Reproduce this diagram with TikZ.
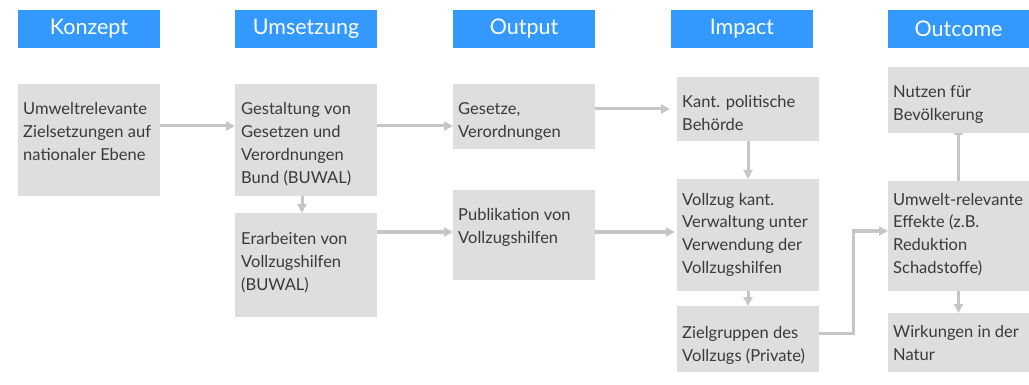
\documentclass[tikz,border=0pt]{standalone}
\usepackage{fontspec}
\setmainfont{Lato}
\usetikzlibrary{arrows.meta,backgrounds}
\definecolor{hblue}{HTML}{3399FF}
\definecolor{boxgray}{HTML}{DEDEDE}
\definecolor{arrgray}{HTML}{C6C6C6}
\definecolor{txtgray}{HTML}{3A3A3A}
\tikzset{
  hdr/.style={fill=hblue, text=white, font=\fontsize{21.5}{24}\selectfont, minimum width=142pt, minimum height=38pt, inner sep=0pt, outer sep=0pt, anchor=north west},
  gbox/.style={fill=boxgray, inner sep=0pt, outer sep=0pt, anchor=north west},
  btxt/.style={text=txtgray, font=\fontsize{16.5}{23}\selectfont, inner sep=0pt, anchor=base west},
  arr/.style={draw=arrgray, line width=3pt, -{Triangle[length=9pt,width=9pt]}},
}
\newcommand\ptext[1]{\parbox[t]{136pt}{\raggedright #1}}
\begin{document}
\begin{tikzpicture}[x=1pt,y=-1pt]
\path[use as bounding box] (0,0) rectangle (1029,385);
% headers
\node[hdr] (h1) at (18,10) {Konzept};
\node[hdr] (h2) at (235,10) {Umsetzung};
\node[hdr] (h3) at (453,10) {Output};
\node[hdr] (h4) at (671,10) {Impact};
\node[hdr, minimum width=141pt] (h5) at (888,10) {Outcome};
% boxes
\node[gbox, minimum width=142pt, minimum height=112pt] (konzept) at (18,84) {};
\node[gbox, minimum width=142pt, minimum height=112pt] (gestaltung) at (235,84) {};
\node[gbox, minimum width=142pt, minimum height=104pt] (erarbeiten) at (235,213) {};
\node[gbox, minimum width=142pt, minimum height=65pt] (gesetze) at (453,84) {};
\node[gbox, minimum width=142pt, minimum height=90pt] (publikation) at (453,190) {};
\node[gbox, minimum width=142pt, minimum height=64pt] (kant) at (677,77) {};
\node[gbox, minimum width=142pt, minimum height=112pt] (vollzug) at (677,179) {};
\node[gbox, minimum width=142pt, minimum height=66pt] (ziel) at (677,306) {};
\node[gbox, minimum width=141pt, minimum height=66pt] (nutzen) at (888,67) {};
\node[gbox, minimum width=141pt, minimum height=110pt] (umwelt) at (888,181) {};
\node[gbox, minimum width=141pt, minimum height=59pt] (wirkungen) at (888,313) {};
% texts
\node[btxt] (konzept-t) at (23,115) {\ptext{Umweltrelevante\\Zielsetzungen auf\\nationaler Ebene}};
\node[btxt] (gestaltung-t) at (241,115) {\ptext{Gestaltung von\\Gesetzen und\\Verordnungen\\Bund (BUWAL)}};
\node[btxt] (erarbeiten-t) at (241,244) {\ptext{Erarbeiten von\\Vollzugshilfen\\(BUWAL)}};
\node[btxt] (gesetze-t) at (458,115) {\ptext{Gesetze,\\Verordnungen}};
\node[btxt] (publikation-t) at (458,221) {\ptext{Publikation von\\Vollzugshilfen}};
\node[btxt] (kant-t) at (682,108) {\ptext{Kant. politische\\Behörde}};
\node[btxt] (vollzug-t) at (682,205) {\ptext{Vollzug kant.\\Verwaltung unter\\Verwendung der\\Vollzugshilfen}};
\node[btxt] (ziel-t) at (682,338) {\ptext{Zielgruppen des\\Vollzugs (Private)}};
\node[btxt] (nutzen-t) at (893,98) {\ptext{Nutzen für\\Bevölkerung}};
\node[btxt] (umwelt-t) at (893,205) {\ptext{Umwelt-relevante\\Effekte (z.B.\\Reduktion\\Schadstoffe)}};
\node[btxt] (wirkungen-t) at (893,337) {\ptext{Wirkungen in der\\Natur}};
% connectors
\begin{pgfonlayer}{background}
\draw[arr] ([yshift=14pt]konzept.east) -- ([yshift=14pt]konzept.east -| gestaltung.west);
\draw[arr] ([yshift=14pt]gestaltung.east) -- ([yshift=14pt]gestaltung.east -| gesetze.west);
\draw[arr] ([xshift=-4pt]gestaltung.south) -- ([xshift=-4pt]gestaltung.south |- erarbeiten.north);
\draw[arr] ([yshift=33pt]erarbeiten.east) -- ([yshift=33pt]erarbeiten.east -| publikation.west);
\draw[arr, shorten >=7pt] (gesetze.east |- kant.west) -- (kant.west);
\draw[arr, shorten >=2pt] ([yshift=3pt]publikation.east) -- ([yshift=3pt]publikation.east -| vollzug.west);
\draw[arr] (kant.south) -- (vollzug.north);
\draw[arr] (vollzug.south) -- (ziel.north);
\draw[arr, miter limit=10] ([yshift=6pt]ziel.east) -- ++(34,0) |- ([yshift=5pt]umwelt.west);
\draw[arr, shorten >=-7pt] (umwelt.north) -- (nutzen.south);
\draw[arr] (umwelt.south) -- (wirkungen.north);
\end{pgfonlayer}
\end{tikzpicture}
\end{document}
